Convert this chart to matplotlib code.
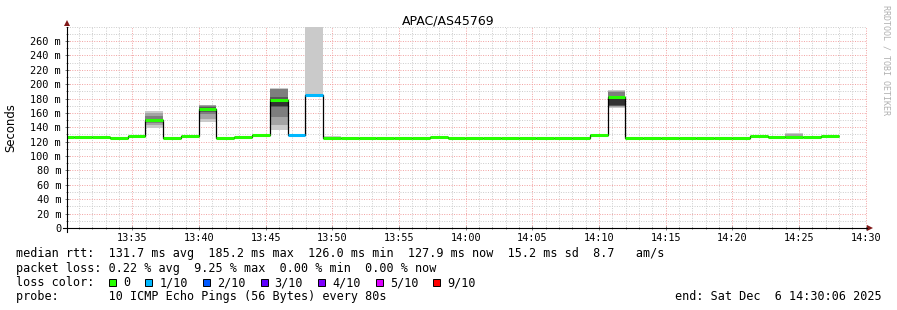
import numpy as np
import matplotlib.pyplot as plt
from matplotlib.patches import Rectangle

plt.rcParams['font.family'] = ['DejaVu Sans Mono']

# --- data ---
title = "APAC/AS45769"
step_len = 80 / 60      # one probe round = 80 s, in minutes
first_start = -0.69     # start of first round, minutes after 13:30:00

# median rtt per round (ms)
median = [126, 126, 127, 125.6, 128, 150, 125.6, 128.4, 164.8, 125.6, 126,
          129.3, 177.7, 129.6, 185, 125.6, 125.6, 125.6, 125.6, 125.6, 125.6,
          127, 125.6, 125.6, 125.6, 125.6, 125.6, 125.6, 125.6, 125.6, 129.5,
          182.5, 125.6, 125.6, 125.6, 125.6, 125.6, 125.6, 125.6, 128, 126, 126,
          126, 128.5]
# lost pings per round (out of 10)
loss = [0, 0, 0, 0, 0, 0, 0, 0, 0, 0, 0, 0, 0, 1, 1, 0, 0, 0, 0, 0, 0, 0,
        0, 0, 0, 0, 0, 0, 0, 0, 0, 0, 0, 0, 0, 0, 0, 0, 0, 0, 0, 0, 0, 0]

# rounds with visible smoke and their (sorted) ping times
smoke_pos = [5, 8, 12, 14, 15, 31, 41]
smoke_pings = [
    [139.5, 143, 146, 148.5, 149.5, 150.5, 152, 156, 159.5, 162.7],
    [148, 152, 158, 161, 163, 166, 168, 169.5, 170.5, 171],
    [136, 143, 155, 168, 169, 179, 182, 193, 193.5, 194.3],
    [185, 185, 185, 185, 185, 185, 185, 185, 185, 300],
    [125.6, 125.6, 125.6, 125.6, 125.6, 125.6, 125.6, 125.6, 125.6, 127.5],
    [167, 168, 169, 170, 171, 181, 184, 189, 191, 192],
    [126, 126, 126, 126, 126, 126.5, 127, 128, 131, 132],
]

loss_labels = ['0', '1/10', '2/10', '3/10', '4/10', '5/10', '9/10']
loss_colors = ['#26ff00', '#00b8ff', '#0059ff', '#5e00ff', '#7e00ff', '#dd00ff', '#ff0000']

x_ticks = [5, 10, 15, 20, 25, 30, 35, 40, 45, 50, 55, 60]
x_tick_labels = ['13:35', '13:40', '13:45', '13:50', '13:55', '14:00',
                 '14:05', '14:10', '14:15', '14:20', '14:25', '14:30']
y_ticks = [0, 20, 40, 60, 80, 100, 120, 140, 160, 180, 200, 220, 240, 260]
y_tick_labels = ['0'] + ['%d m' % v for v in y_ticks[1:]]

legend_lines = [
    "median rtt:  131.7 ms avg  185.2 ms max  126.0 ms min  127.9 ms now  15.2 ms sd  8.7   am/s",
    "packet loss: 0.22 % avg  9.25 % max  0.00 % min  0.00 % now",
    "loss color:",
    "probe:       10 ICMP Echo Pings (56 Bytes) every 80s",
]
end_text = "end: Sat Dec  6 14:30:06 2025"

# --- figure ---
W, H = 897, 310
fig = plt.figure(figsize=(W / 100, H / 100), dpi=100)
fig.patch.set_facecolor('white')
ax = fig.add_axes([67 / W, (H - 228) / H, 800 / W, 201.4 / H])

starts = first_start + step_len * np.arange(len(median))
edges = np.append(starts, starts[-1] + step_len)

# smoke: outer pairs light, inner pairs dark
for pos, pings in zip(smoke_pos, smoke_pings):
    p = sorted(pings)
    for i in range(5):
        shade = (int(190 / 5 * (4 - i)) + 50) / 255
        ax.bar(starts[pos], p[9 - i] - p[i], bottom=p[i], width=step_len,
               align='edge', color=(shade, shade, shade), linewidth=0, zorder=2)

ax.stairs(median, edges, baseline=None, color='black', lw=0.9, zorder=3)
ax.hlines(median, starts, edges[1:], colors=[loss_colors[l] for l in loss],
          lw=2.2, zorder=4)

ax.set_xlim(0.1, 60.1)
ax.set_ylim(0, 280)
ax.set_xticks(x_ticks, x_tick_labels)
ax.set_xticks(np.arange(1, 61), minor=True)
ax.set_yticks(y_ticks, y_tick_labels)
ax.set_yticks(np.arange(0, 281, 10), minor=True)
ax.set_axisbelow(True)
ax.grid(which='major', color='#f2a0a0', ls=(0, (1, 1.5)), lw=0.7)
ax.grid(which='minor', color='#cccccc', ls=(0, (1, 1.5)), lw=0.7)
for s in ax.spines.values():
    s.set_visible(False)
ax.tick_params(which='both', direction='inout', color='#606060', width=0.6,
               labelsize=7.4)
ax.tick_params(which='major', length=2.5)
ax.tick_params(which='minor', length=1.5)
ax.tick_params(axis='x', pad=2.4)
ax.tick_params(axis='y', pad=3.0)

# axes with arrows
ax.plot([-0.005, 1.0], [0, 0], transform=ax.transAxes, color='black',
        lw=0.8, clip_on=False, zorder=5)
ax.plot([0, 0], [-0.02, 1.0], transform=ax.transAxes, color='black',
        lw=0.8, clip_on=False, zorder=5)
ax.plot([1.004], [0], marker='>', ms=4, color='#801818', mew=0,
        transform=ax.transAxes, clip_on=False)
ax.plot([0], [1.018], marker='^', ms=4, color='#801818', mew=0,
        transform=ax.transAxes, clip_on=False)

fig.text(448 / W, 1 - 24 / H, title, ha='center', va='baseline',
         family='DejaVu Sans', size=9)
fig.text(11 / W, 1 - 127.5 / H, 'Seconds', rotation=90, ha='center',
         va='center', family='DejaVu Sans', size=8.4)
fig.text(886 / W, 1 - 5 / H, 'RRDTOOL / TOBI OETIKER', rotation=270,
         ha='center', va='top', size=6, color='#b0b0b0')

# legend
pitch = 7.115
baselines = [257.5, 271.8, 286, 300.3]
for line, yb in zip(legend_lines, baselines):
    fig.text(16 / W, 1 - yb / H, line, va='baseline', size=8.5)
fig.text(882 / W, 1 - baselines[3] / H, end_text, ha='right',
         va='baseline', size=8.5)

bx = 109
for lab, col in zip(loss_labels, loss_colors):
    fig.add_artist(Rectangle((bx / W, 1 - baselines[2] / H), 7 / W, 7 / H,
                             transform=fig.transFigure, facecolor=col,
                             edgecolor='black', lw=0.7))
    fig.text((bx + 14) / W, 1 - baselines[2] / H, lab, va='baseline', size=8.5)
    bx += (len(lab) + 4.1) * pitch

fig.savefig('out.png', dpi=100)
